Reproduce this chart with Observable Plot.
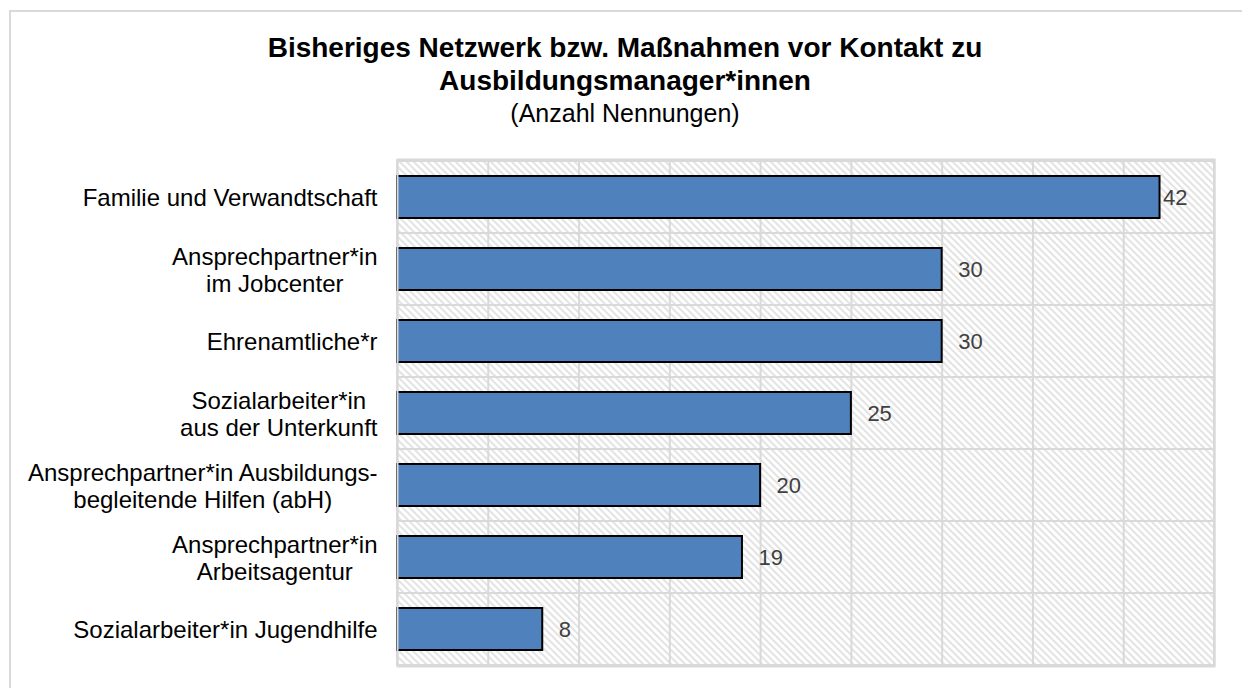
<!DOCTYPE html>
<html>
<head>
<meta charset="utf-8">
<script src="https://cdn.jsdelivr.net/npm/d3@7"></script>
<script src="https://cdn.jsdelivr.net/npm/@observablehq/plot@0.6"></script>
<style>
  html, body { margin: 0; padding: 0; background: #fff; }
  #wrap { position: relative; width: 1242px; height: 688px; overflow: hidden; font-family: "Liberation Sans", Arial, sans-serif; }
  #border { position: absolute; left: 9px; top: 10px; width: 1300px; height: 760px; border: 2px solid #d9d9d9; box-sizing: border-box; }
  .t { position: absolute; left: 0; width: 1250px; text-align: center; color: #000; white-space: nowrap; }
  #t1, #t2 { font-weight: bold; font-size: 28px; line-height: 30px; }
  #t1 { top: 33px; }
  #t2 { top: 66px; }
  #sub { font-size: 25px; line-height: 30px; top: 98px; }
  #chart { position: absolute; left: 0; top: 0; }
</style>
</head>
<body>
<div id="wrap">
  <div id="border"></div>
  <div class="t" id="t1">Bisheriges Netzwerk bzw. Maßnahmen vor Kontakt zu</div>
  <div class="t" id="t2">Ausbildungsmanager*innen</div>
  <div class="t" id="sub">(Anzahl Nennungen)</div>
  <div id="chart"></div>
</div>
<script>
const categories = [
  "Familie und Verwandtschaft",
  "Ansprechpartner*in\nim Jobcenter",
  "Ehrenamtliche*r",
  "Sozialarbeiter*in\naus der Unterkunft",
  "Ansprechpartner*in Ausbildungs-\nbegleitende Hilfen (abH)",
  "Ansprechpartner*in\nArbeitsagentur",
  "Sozialarbeiter*in Jugendhilfe"
];
const values = [42, 30, 30, 25, 20, 19, 8];
const xTicks = [0, 5, 10, 15, 20, 25, 30, 35, 40, 45];

const data = categories.map((c, i) => ({label: c, value: values[i]}));
const maxV = d3.max(values);
const xMax = d3.max(xTicks);

const plot = Plot.plot({
  width: 1242,
  height: 688,
  marginLeft: 397,
  marginRight: 28,
  marginTop: 159,
  marginBottom: 22,
  style: {fontFamily: "'Liberation Sans', Arial, sans-serif", background: "transparent"},
  x: {domain: [0, xMax], axis: null},
  y: {domain: categories, padding: 0, axis: null},
  marks: [
    Plot.barX(categories, {x1: 0, x2: xMax, y: d => d, fill: "url(#hatch)", stroke: "#d9d9d9", strokeWidth: 2}),
    Plot.ruleX(xTicks, {stroke: "#d9d9d9", strokeWidth: 2}),
    Plot.barX(data, {x: "value", y: "label", fill: "#4f81bd", stroke: "#000", strokeWidth: 2, insetTop: 15, insetBottom: 15}),
    Plot.text(data.filter(d => d.value !== maxV), {x: "value", y: "label", text: d => String(d.value), textAnchor: "start", dx: 16, fill: "#404040", fontSize: 22}),
    Plot.text(data.filter(d => d.value === maxV), {x: "value", y: "label", text: d => String(d.value), textAnchor: "start", dx: 3, fill: "#404040", fontSize: 22}),
    Plot.axisY({domain: categories, tickSize: 0, tickPadding: 20, fontSize: 24, fill: "#000", lineHeight: 1.13, label: null}),
    Plot.frame({stroke: "#d9d9d9", strokeWidth: 2})
  ]
});

// hatch pattern
const ns = "http://www.w3.org/2000/svg";
const defs = document.createElementNS(ns, "defs");
defs.innerHTML = `<pattern id="hatch" patternUnits="userSpaceOnUse" width="7" height="7">
  <rect width="7" height="7" fill="#ffffff"/>
  <path d="M-2,-2 L9,9 M-2,5 L2,9 M5,-2 L9,2" stroke="#e4e4e4" stroke-width="2"/>
</pattern>`;
plot.insertBefore(defs, plot.firstChild);

document.getElementById("chart").appendChild(plot);

// center lines within multi-line y labels (right-aligned block)
plot.querySelectorAll('g[aria-label="y-axis tick label"] text').forEach(t => {
  const spans = Array.from(t.querySelectorAll("tspan"));
  if (spans.length > 1) {
    const widths = spans.map(s => s.getComputedTextLength());
    const W = Math.max(...widths);
    spans.forEach((s, i) => s.setAttribute("x", -(W - widths[i]) / 2));
  }
});
</script>
</body>
</html>
